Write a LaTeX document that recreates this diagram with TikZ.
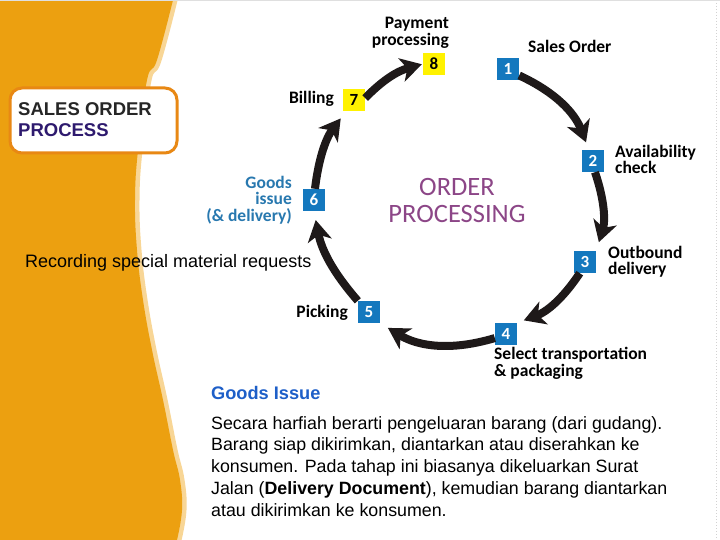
\documentclass[tikz,border=0pt]{standalone}
\usepackage{fontspec}
\setmainfont{Liberation Sans}
\newfontfamily\lblfont{Carlito}
\usetikzlibrary{arrows.meta}
\definecolor{band}{RGB}{236,160,16}
\definecolor{bandlight}{RGB}{248,214,150}
\definecolor{boxorange}{RGB}{232,136,20}
\definecolor{stepblue}{RGB}{20,120,190}
\definecolor{stepyellow}{RGB}{255,242,0}
\definecolor{ttlpurple}{RGB}{46,26,110}
\definecolor{orderpurple}{RGB}{140,70,135}
\definecolor{goodsblue}{RGB}{40,120,175}
\definecolor{issueblue}{RGB}{30,95,200}
\definecolor{arrowblack}{RGB}{30,25,25}
\begin{document}
\begin{tikzpicture}[x=1pt,y=-1pt,
  stepbox/.style={minimum size=22pt, inner sep=0pt, font=\lblfont\bfseries\fontsize{17}{17}\selectfont},
  bluebox/.style={stepbox, fill=stepblue, text=white},
  yellowbox/.style={stepbox, fill=stepyellow, text=black},
  flow/.style={line width=8pt, draw=arrowblack, -{Stealth[length=21pt,width=24pt,inset=6pt]}},
  lbl/.style={font=\lblfont\bfseries\fontsize{17.5}{16.5}\selectfont, inner sep=0pt, text=black},
  bodytext/.style={font=\fontsize{17.8}{21.75}\selectfont, inner sep=0pt, align=left}
]
\useasboundingbox (0,0) rectangle (720,540);
% orange band
\draw[bandlight, line width=9pt] plot[smooth, tension=0.7] coordinates {(173,0) (157,60) (147,80) (138,150) (135,200) (137,250) (143,300) (152,350) (163,400) (173,450) (180,480) (182,510) (177,540)};
\fill[band] (0,0) -- plot[smooth, tension=0.7] coordinates {(173,0) (157,60) (147,80) (138,150) (135,200) (137,250) (143,300) (152,350) (163,400) (173,450) (180,480) (182,510) (177,540)} -- (0,540) -- cycle;
\draw[gray!35, dotted, line width=1pt] (716,0) -- (716,540);
\draw[gray!25, line width=0.8pt] (0,0.5) -- (720,0.5);

% title box
\node[draw=boxorange, line width=3pt, fill=white, rounded corners=12pt, minimum width=167pt, minimum height=65pt, anchor=north west] (titlebox) at (8.5,86.5) {};
\node[anchor=base west, inner sep=0pt, font=\bfseries\fontsize{18.5}{18.5}\selectfont, text=black!85] (ttl1) at (18,116) {SALES ORDER};
\node[anchor=base west, inner sep=0pt, font=\bfseries\fontsize{18.5}{18.5}\selectfont, text=ttlpurple] (ttl2) at (18,137) {PROCESS};

% step boxes
\node[yellowbox] (n8) at (434,64) {8};
\node[bluebox] (n1) at (508,69) {1};
\node[bluebox] (n2) at (593,161) {2};
\node[bluebox] (n3) at (585,262) {3};
\node[bluebox] (n4) at (506,334) {4};
\node[bluebox] (n5) at (369,312) {5};
\node[bluebox] (n6) at (314,200) {6};
\node[yellowbox] (n7) at (354,100) {7};

% arrows
\draw[flow, shorten >=8pt] (n1.-30) to[bend left=22] (n2.110);
\draw[flow, shorten >=9pt] (n2.-80) to[bend left=18] (n3.north east);
\draw[flow, shorten >=7pt] (n3.-115) to[bend left=18] (n4.north east);
\draw[flow, shorten >=9pt] (n4.-160) to[bend left=24] (n5.south east);
\draw[flow, shorten >=9pt] (n5.north west) to[bend left=15] (n6.south);
\draw[flow, shorten >=9pt] (n6.85) to[bend left=15] (n7.-125);
\draw[flow, shorten >=1pt] (n7.10) to[bend left=15] (n8.west);

% labels
\node[lbl, anchor=north east, align=right] (lpay) at (449,17) {Payment\\processing};
\node[lbl, anchor=north west] (lsales) at (528,40) {Sales Order};
\node[lbl, anchor=north west, align=left] (lavail) at (615,145) {Availability\\check};
\node[lbl, anchor=north west, align=left] (loutb) at (608,246) {Outbound\\delivery};
\node[lbl, anchor=north west, align=left] (lsel) at (494,347) {Select transportation\\\& packaging};
\node[lbl, anchor=north east] (lpick) at (348,305) {Picking};
\node[lbl, anchor=north east, align=right, text=goodsblue] (lgoods) at (292,176) {Goods\\issue\\(\& delivery)};
\node[lbl, anchor=north east] (lbill) at (334,91) {Billing};

\node[font=\lblfont\fontsize{26.5}{27}\selectfont, text=orderpurple, align=center, inner sep=0pt] (ordproc) at (457,200) {ORDER\\PROCESSING};

\node[anchor=base west, inner sep=0pt, font=\fontsize{18}{18}\selectfont] (rec) at (25,267) {Recording special material requests};

\node[anchor=base west, inner sep=0pt, font=\bfseries\fontsize{18.2}{18.2}\selectfont, text=issueblue] (gi) at (211,399) {Goods Issue};
\node[bodytext, anchor=north west] (body) at (211,416) {Secara harfiah berarti pengeluaran barang (dari gudang).\\
Barang siap dikirimkan, diantarkan atau diserahkan ke\\
konsumen. Pada tahap ini biasanya dikeluarkan Surat\\
Jalan (\textbf{Delivery Document}), kemudian barang diantarkan\\
atau dikirimkan ke konsumen.};
\end{tikzpicture}
\end{document}
